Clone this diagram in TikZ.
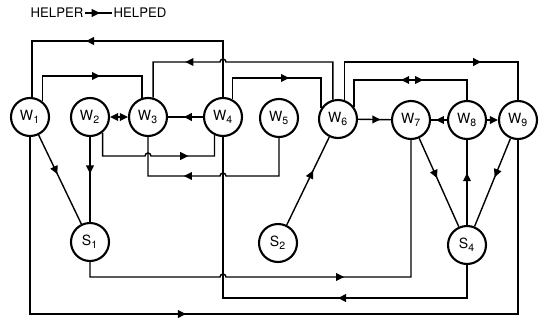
\documentclass[tikz,border=0pt]{standalone}
\usepackage{fontspec}
\setmainfont{TeX Gyre Heros}
\usetikzlibrary{arrows.meta,decorations.markings,calc}
\tikzset{
  worker/.style={circle,draw,line width=1.2pt,minimum size=0.76cm,inner sep=0pt,font=\fontsize{8}{9}\selectfont},
  legend/.style={inner sep=1pt,font=\fontsize{7.5}{9}\selectfont},
  link/.style={line width=0.8pt,>={Triangle[length=4.6pt,width=4.4pt]}},
  mid/.style={postaction={decorate,decoration={markings,mark=at position #1 with {\arrow{>}}}}},
  twoway/.style 2 args={postaction={decorate,decoration={markings,mark=at position #1 with {\arrowreversed{>}},mark=at position #2 with {\arrow{>}}}}}
}

\begin{document}
\begin{tikzpicture}[x=0.02cm,y=-0.02cm]
\useasboundingbox (0,0) rectangle (543,321);
\node[legend] (helper) at (57,13) {HELPER};
\node[legend] (helped) at (140,13) {HELPED};
\draw[link,mid=0.55] (helper) -- (helped);

\node[worker] (W1) at (30,117) {W\textsubscript{1}};
\node[worker] (W2) at (90,117) {W\textsubscript{2}};
\node[worker] (W3) at (148,117) {W\textsubscript{3}};
\node[worker] (W4) at (223,117) {W\textsubscript{4}};
\node[worker] (W5) at (279,118) {W\textsubscript{5}};
\node[worker] (W6) at (338,119) {W\textsubscript{6}};
\node[worker] (W7) at (411,120) {W\textsubscript{7}};
\node[worker] (W8) at (467,120) {W\textsubscript{8}};
\node[worker] (W9) at (518,120) {W\textsubscript{9}};
\node[worker] (S1) at (90,242) {S\textsubscript{1}};
\node[worker] (S2) at (278,243) {S\textsubscript{2}};
\node[worker] (S4) at (467,245) {S\textsubscript{4}};

\coordinate (yA) at (0,41);
\coordinate (yB) at (0,62);
\coordinate (yD) at (0,76);
\coordinate (yE) at (0,78);
\coordinate (yF) at (0,80);
\coordinate (yG) at (0,156);
\coordinate (yH) at (0,176);
\coordinate (yI) at (0,277);
\coordinate (yJ) at (0,298);
\coordinate (yK) at (0,314);

\draw[link,mid=3.86cm] (W4.north) -- (W4.north |- yA) -- (W1.84 |- yA) -- (W1.84);
\draw[link,mid=1.66cm] (W1.51) -- (W1.51 |- yD) -- (W3.108 |- yD) -- (W3.108);
\draw[link,mid=3.77cm] (W6.105) -- (W6.105 |- yB) -- ($(W4.north |- yB)+(3,0)$) arc[start angle=0,end angle=-180,radius=3] -- (W3.75 |- yB) -- (W3.75);
\draw[link,mid=1.56cm] (W4.62) -- (W4.62 |- yE) -- (W6.147 |- yE) -- (W6.147);
\draw[link,mid=3.5cm] (W6.72) -- (W6.72 |- yB) -- (W9.north |- yB) -- (W9.north);
\draw[link,twoway={1.48cm}{1.92cm}] (W6.38) -- (W6.38 |- yF) -- (W8.north |- yF) -- (W8.north);
\draw[link,mid=2.25cm] (W2.-51) -- (W2.-51 |- yG) -- ($(W3.south |- yG)+(-3,0)$) arc[start angle=180,end angle=360,radius=3] -- (W4.-115 |- yG) -- (W4.-115);
\draw[link,mid=2.73cm] (W5.south) -- (W5.south |- yH) -- ($(W4.south |- yH)+(3,0)$) arc[start angle=0,end angle=-180,radius=3] -- (W3.south |- yH) -- (W3.south);
\draw[link,mid=3.24cm] (S4.south) -- (S4.south |- yJ) -- (W4.south |- yJ) -- (W4.south);
\draw[link,mid=5.45cm] (S1.south) -- (S1.south |- yI) -- ($(W4.south |- yI)+(-3,0)$) arc[start angle=180,end angle=360,radius=3] -- (W7.south |- yI) -- (W7.south);
\draw[link,mid=6.66cm] (W1.south) -- (W1.south |- yK) -- (W9.south |- yK) -- (W9.south);

\draw[link,mid=0.55] (W4) -- (W3);
\draw[link,<->] (W2) -- (W3);
\draw[link,mid=0.68] (W6) -- (W7);
\draw[link,mid=0.7] (W8) -- (W7);
\draw[link,->] (W8) -- (W9);
\draw[link,mid=0.44] (W1) -- (S1);
\draw[link,mid=0.43] (W2) -- (S1);
\draw[link,mid=0.62] (S2) -- (W6);
\draw[link,mid=0.45] (W7) -- (S4);
\draw[link,mid=0.61] (S4) -- (W8);
\draw[link,mid=0.44] (W9) -- (S4);
\end{tikzpicture}
\end{document}
